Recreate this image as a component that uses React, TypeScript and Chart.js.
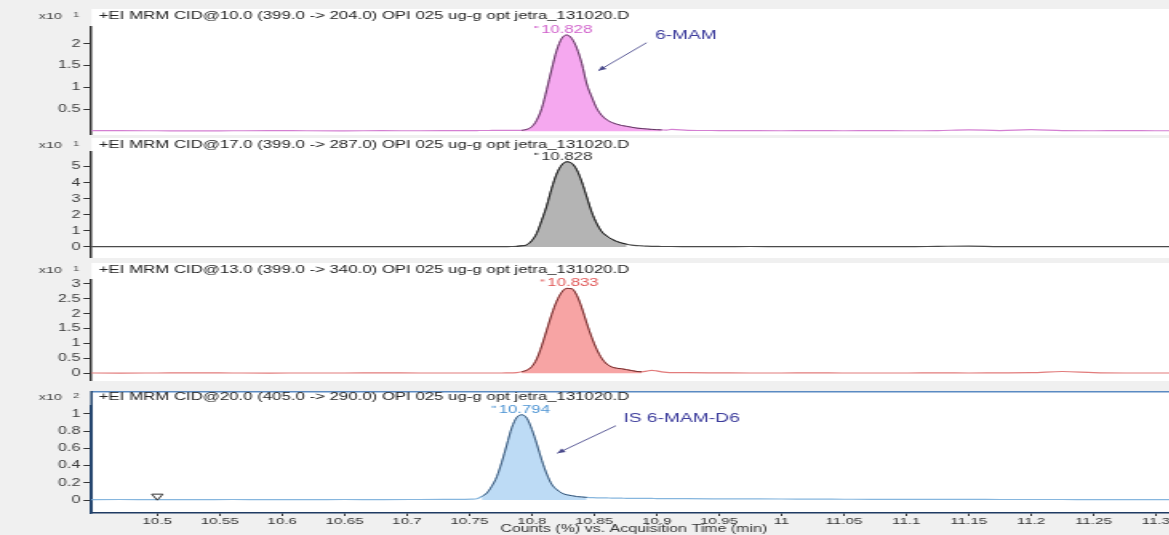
import React, { useEffect, useRef } from "react";
import { Chart, registerables } from "chart.js";

Chart.register(...registerables);

const FONT = '"Liberation Sans", Arial, Helvetica, sans-serif';
Chart.defaults.font.family = FONT;

// ---------- data ----------
const TIMES = [
  10.44, 10.47, 10.5, 10.53, 10.56, 10.59, 10.62, 10.65, 10.68, 10.71, 10.73, 10.745,
  10.752, 10.756, 10.76, 10.764, 10.768, 10.772, 10.776, 10.78, 10.784, 10.788,
  10.792, 10.796, 10.8, 10.804, 10.808, 10.812, 10.816, 10.82, 10.824, 10.828,
  10.832, 10.836, 10.84, 10.844, 10.848, 10.852, 10.856, 10.86, 10.864, 10.868,
  10.872, 10.876, 10.88, 10.884, 10.888, 10.892, 10.896, 10.9, 10.904, 10.908, 10.912,
  10.925, 10.95, 10.975, 11.0, 11.025, 11.05, 11.075, 11.1, 11.125, 11.15, 11.175, 11.2, 11.225, 11.25, 11.275, 11.3, 11.33,
];

// 6-MAM, CID@10.0 (x10^1)
const SERIES_6MAM = [
  0.01, 0.012, 0.01, 0.008, 0.01, 0.012, 0.01, 0.009, 0.011, 0.01, 0.012, 0.015,
  0.015, 0.015, 0.016, 0.016, 0.017, 0.017, 0.018, 0.018, 0.019, 0.02,
  0.02, 0.04, 0.1, 0.25, 0.52, 0.95, 1.42, 1.85, 2.12, 2.2,
  2.12, 1.9, 1.55, 1.08, 0.78, 0.52, 0.36, 0.26, 0.2, 0.16,
  0.13, 0.11, 0.09, 0.07, 0.06, 0.05, 0.04, 0.035, 0.03, 0.025, 0.04,
  0.02, 0.015, 0.012, 0.01, 0.012, 0.01, 0.012, 0.01, 0.015, 0.03, 0.015, 0.035, 0.012, 0.01, 0.012, 0.01, 0.01,
];

// CID@17.0 (x10^1)
const SERIES_CID17 = [
  0.02, 0.025, 0.02, 0.018, 0.02, 0.022, 0.02, 0.02, 0.018, 0.02, 0.022, 0.02,
  0.02, 0.02, 0.02, 0.02, 0.02, 0.02, 0.022, 0.025, 0.03, 0.04,
  0.07, 0.13, 0.38, 0.85, 1.65, 2.55, 3.65, 4.55, 5.1, 5.3,
  5.2, 4.8, 4.05, 3.1, 2.15, 1.45, 0.95, 0.68, 0.48, 0.34,
  0.24, 0.17, 0.12, 0.09, 0.07, 0.05, 0.04, 0.035, 0.03, 0.03, 0.03,
  0.025, 0.02, 0.03, 0.02, 0.018, 0.025, 0.02, 0.02, 0.04, 0.06, 0.02, 0.018, 0.02, 0.02, 0.025, 0.02, 0.02,
];

// CID@13.0 (x10^1)
const SERIES_CID13 = [
  0.01, 0.008, 0.01, 0.012, 0.01, 0.008, 0.01, 0.01, 0.012, 0.01, 0.01, 0.01,
  0.01, 0.01, 0.01, 0.01, 0.01, 0.01, 0.01, 0.012, 0.015, 0.02,
  0.05, 0.1, 0.22, 0.48, 0.92, 1.45, 1.98, 2.42, 2.72, 2.85,
  2.84, 2.62, 2.2, 1.68, 1.2, 0.8, 0.5, 0.31, 0.21, 0.17,
  0.15, 0.12, 0.09, 0.06, 0.05, 0.07, 0.1, 0.08, 0.05, 0.03, 0.02,
  0.02, 0.015, 0.01, 0.01, 0.012, 0.01, 0.01, 0.01, 0.012, 0.01, 0.015, 0.02, 0.06, 0.02, 0.01, 0.01, 0.01,
];

// IS 6-MAM-D6, CID@20.0 (x10^2)
const SERIES_IS = [
  0.005, 0.006, 0.005, 0.005, 0.006, 0.005, 0.005, 0.006, 0.005, 0.006, 0.007, 0.008,
  0.01, 0.015, 0.04, 0.08, 0.16, 0.27, 0.44, 0.64, 0.84, 0.96,
  0.99, 0.95, 0.82, 0.65, 0.46, 0.3, 0.18, 0.12, 0.08, 0.06,
  0.05, 0.04, 0.035, 0.03, 0.028, 0.026, 0.025, 0.024, 0.023, 0.022,
  0.021, 0.02, 0.02, 0.019, 0.019, 0.018, 0.018, 0.017, 0.017, 0.016, 0.016,
  0.015, 0.014, 0.013, 0.012, 0.01, 0.009, 0.008, 0.008, 0.007, 0.007, 0.006, 0.006, 0.006, 0.005, 0.005, 0.005, 0.005,
];

const SERIES = [SERIES_6MAM, SERIES_CID17, SERIES_CID13, SERIES_IS];

const TITLES = [
  "+EI MRM CID@10.0 (399.0 -> 204.0) OPI 025 ug-g opt jetra_131020.D",
  "+EI MRM CID@17.0 (399.0 -> 287.0) OPI 025 ug-g opt jetra_131020.D",
  "+EI MRM CID@13.0 (399.0 -> 340.0) OPI 025 ug-g opt jetra_131020.D",
  "+EI MRM CID@20.0 (405.0 -> 290.0) OPI 025 ug-g opt jetra_131020.D",
];
const EXPONENTS = ["1", "1", "1", "2"];
const PEAK_TIMES = [10.828, 10.828, 10.833, 10.794];
const PEAK_LABELS = ["10.828", "10.828", "10.833", "10.794"];
const WINDOW_START = [10.79, 10.785, 10.79, 10.757];
const WINDOW_END = [10.905, 10.877, 10.889, 10.845];

const Y_MIN = [-0.087, -0.685, -0.259, -0.151];
const Y_MAX = [2.384, 5.915, 3.134, 1.093];
const Y_TICKS_6MAM = [0.5, 1, 1.5, 2];
const Y_TICKS_CID17 = [0, 1, 2, 3, 4, 5];
const Y_TICKS_CID13 = [0, 0.5, 1, 1.5, 2, 2.5, 3];
const Y_TICKS_IS = [0, 0.2, 0.4, 0.6, 0.8, 1];
const Y_TICKS = [Y_TICKS_6MAM, Y_TICKS_CID17, Y_TICKS_CID13, Y_TICKS_IS];

const X_MIN = 10.4473;
const X_MAX = 11.316;
const X_TICKS = [10.5, 10.55, 10.6, 10.65, 10.7, 10.75, 10.8, 10.85, 10.9, 10.95, 11, 11.05, 11.1, 11.15, 11.2, 11.25, 11.3];
const X_TITLE = "Counts (%) vs. Acquisition Time (min)";

const ANNOTATION_TEXTS = ["6-MAM", "IS 6-MAM-D6"];
const ANNOTATION_PANELS = [0, 3];
const ANNOTATION_TEXT_TIMES = [10.8987, 10.8734];
const ANNOTATION_TEXT_VALUES = [2.18, 0.95];
const ARROW_FROM_TIMES = [10.892, 10.8674];
const ARROW_FROM_VALUES = [2.025, 0.864];
const ARROW_TO_TIMES = [10.8533, 10.8204];
const ARROW_TO_VALUES = [1.384, 0.543];

const MARKER_TIMES = [10.5];
const MARKER_VALUES = [0.045];

// ---------- layout & style ----------
const STRETCH = 1.6;
const CANVAS_W = 740;
const VIEW_W = 1169;
const VIEW_H = 535;
const PANEL_TOP = [9, 138, 263, 391];
const PANEL_H = [126, 120, 118, 144];
const PLOT_TOP_PAD = [18, 14, 17, 15];
const TITLE_Y = [6.7, 7, 7, 6];
const AXIS_W = 57.2;
const X_AXIS_H = 22;

const TRACE_COLORS = ["#d47fd2", "#4a4a4a", "#e27c7c", "#86b6de"];
const FILL_COLORS = ["#f5a8ef", "#b4b4b4", "#f7a4a4", "#bddbf5"];
const OUTLINE_COLORS = ["#5e3a5e", "#1e1e1e", "#6e2c2c", "#3c5878"];
const LABEL_COLORS = ["#d05fcb", "#333333", "#e05555", "#4b93d3"];
const ANNOT_COLOR = "#3c3c9c";
const ARROW_COLOR = "#4a4a8c";

function drawArrow(ctx: CanvasRenderingContext2D, x1: number, y1: number, x2: number, y2: number) {
  ctx.strokeStyle = ARROW_COLOR;
  ctx.fillStyle = ARROW_COLOR;
  ctx.lineWidth = 0.9;
  ctx.beginPath();
  ctx.moveTo(x1, y1);
  ctx.lineTo(x2, y2);
  ctx.stroke();
  const ang = Math.atan2(y2 - y1, x2 - x1);
  const L = 5;
  const W = 2.2;
  ctx.beginPath();
  ctx.moveTo(x2, y2);
  ctx.lineTo(x2 - L * Math.cos(ang) + W * Math.sin(ang), y2 - L * Math.sin(ang) - W * Math.cos(ang));
  ctx.lineTo(x2 - L * Math.cos(ang) - W * Math.sin(ang), y2 - L * Math.sin(ang) + W * Math.cos(ang));
  ctx.closePath();
  ctx.fill();
}

function makePlugin(i: number) {
  return {
    id: "panelDecor" + i,
    beforeDraw(chart: any) {
      const { ctx, chartArea: a, width } = chart;
      ctx.save();
      ctx.fillStyle = "#ffffff";
      ctx.fillRect(a.left, 0, width - a.left, a.bottom);
      if (i === 3) {
        ctx.strokeStyle = "#5a8ac2";
        ctx.lineWidth = 1.4;
        ctx.beginPath();
        ctx.moveTo(a.left, 0.8);
        ctx.lineTo(width, 0.8);
        ctx.stroke();
        ctx.strokeStyle = "#24456e";
        ctx.lineWidth = 1.5;
        ctx.beginPath();
        ctx.moveTo(a.left, 0);
        ctx.lineTo(a.left, a.bottom);
        ctx.stroke();
      }
      ctx.restore();
    },
    afterDraw(chart: any) {
      const { ctx, chartArea: a } = chart;
      const xs = chart.scales.x;
      const ys = chart.scales.y;
      ctx.save();
      // title
      ctx.font = "10.5px " + FONT;
      ctx.fillStyle = "#222222";
      ctx.textAlign = "left";
      ctx.textBaseline = "middle";
      ctx.fillText(TITLES[i], a.left + 4.5, TITLE_Y[i]);
      // exponent
      ctx.fillStyle = "#444444";
      ctx.font = "9px " + FONT;
      ctx.textAlign = "right";
      ctx.fillText("x10", a.left - 18.5, TITLE_Y[i] + 0.5);
      ctx.font = "7px " + FONT;
      ctx.textAlign = "center";
      ctx.fillText(EXPONENTS[i], a.left - 9.5, TITLE_Y[i] - 1);
      // peak label
      const vals = SERIES[i];
      let k = 0;
      vals.forEach((v, j) => { if (v > vals[k]) k = j; });
      const px = xs.getPixelForValue(PEAK_TIMES[i]);
      const py = ys.getPixelForValue(vals[k]) - 5;
      ctx.font = "10.5px " + FONT;
      ctx.fillStyle = LABEL_COLORS[i];
      ctx.textAlign = "center";
      ctx.fillText(PEAK_LABELS[i], px, py);
      const tw = ctx.measureText(PEAK_LABELS[i]).width;
      const mx = px - tw / 2 - 3;
      ctx.strokeStyle = LABEL_COLORS[i];
      ctx.lineWidth = 0.8;
      ctx.beginPath();
      ctx.moveTo(mx - 0.7, py - 4);
      ctx.lineTo(mx - 0.7, py - 2);
      ctx.moveTo(mx + 0.7, py - 4);
      ctx.lineTo(mx + 0.7, py - 2);
      ctx.stroke();
      // annotations
      ANNOTATION_PANELS.forEach((p, n) => {
        if (p !== i) return;
        drawArrow(
          ctx,
          xs.getPixelForValue(ARROW_FROM_TIMES[n]), ys.getPixelForValue(ARROW_FROM_VALUES[n]),
          xs.getPixelForValue(ARROW_TO_TIMES[n]), ys.getPixelForValue(ARROW_TO_VALUES[n])
        );
        ctx.font = "12px " + FONT;
        ctx.fillStyle = ANNOT_COLOR;
        ctx.textAlign = "left";
        ctx.textBaseline = "middle";
        ctx.fillText(
          ANNOTATION_TEXTS[n],
          xs.getPixelForValue(ANNOTATION_TEXT_TIMES[n]),
          ys.getPixelForValue(ANNOTATION_TEXT_VALUES[n])
        );
      });
      ctx.restore();
    },
  };
}

function buildConfig(i: number): any {
  const values = SERIES[i];
  const trace = TIMES.map((t, k) => ({ x: t, y: values[k] }));
  const peak = trace.filter((p) => p.x >= WINDOW_START[i] && p.x <= WINDOW_END[i]);
  const datasets: any[] = [
    {
      data: peak,
      borderColor: OUTLINE_COLORS[i],
      backgroundColor: FILL_COLORS[i],
      fill: "origin",
      borderWidth: 1,
      pointRadius: 0,
      cubicInterpolationMode: "monotone",
      order: 1,
    },
    {
      data: trace,
      borderColor: TRACE_COLORS[i],
      borderWidth: 1.2,
      pointRadius: 0,
      fill: false,
      cubicInterpolationMode: "monotone",
      order: 2,
    },
  ];
  if (i === 3) {
    datasets.push({
      data: MARKER_TIMES.map((t, k) => ({ x: t, y: MARKER_VALUES[k] })),
      showLine: false,
      pointStyle: "triangle",
      rotation: 180,
      pointRadius: 4,
      borderColor: "#333333",
      borderWidth: 1,
      backgroundColor: "rgba(255,255,255,0)",
      order: 0,
    });
  }
  const isBottom = i === 3;
  return {
    type: "line",
    data: { datasets },
    plugins: [makePlugin(i)],
    options: {
      responsive: false,
      animation: false,
      devicePixelRatio: 1,
      events: [],
      layout: { padding: { top: PLOT_TOP_PAD[i], right: 5, bottom: 0, left: 0 } },
      plugins: {
        legend: { display: false },
        tooltip: { enabled: false },
        title: { display: false },
      },
      scales: {
        x: {
          type: "linear",
          min: X_MIN,
          max: X_MAX,
          display: isBottom,
          afterBuildTicks: (s: any) => {
            s.ticks = X_TICKS.map((v) => ({ value: v }));
          },
          afterFit: (s: any) => {
            if (isBottom) s.height = X_AXIS_H;
            s.paddingLeft = 0;
            s.paddingRight = 0;
          },
          ticks: {
            autoSkip: false,
            maxRotation: 0,
            minRotation: 0,
            padding: 0,
            color: "#333333",
            font: { size: 9.5 },
            callback: (v: any) => String(v),
          },
          grid: { drawOnChartArea: false, drawTicks: true, tickLength: 3, color: "#333333" },
          border: { display: true, color: "#1f3b63", width: 1.5 },
          title: {
            display: true,
            text: X_TITLE,
            color: "#333333",
            font: { size: 10, lineHeight: 1.1 },
            padding: 0,
          },
        },
        y: {
          type: "linear",
          min: Y_MIN[i],
          max: Y_MAX[i],
          afterBuildTicks: (s: any) => {
            s.ticks = Y_TICKS[i].map((v) => ({ value: v }));
          },
          afterFit: (s: any) => {
            s.width = AXIS_W;
            s.paddingTop = 0;
            s.paddingBottom = 0;
          },
          ticks: {
            autoSkip: false,
            padding: 2,
            color: "#3a3a3a",
            font: { size: 10 },
            callback: (v: any) => String(v),
          },
          grid: { drawOnChartArea: false, drawTicks: true, tickLength: 5, color: "#333333" },
          border: { display: true, color: isBottom ? "#24456e" : "#333333", width: 1.5 },
        },
      },
    },
  };
}

export default function App() {
  const wrapRef = useRef<HTMLDivElement>(null);
  useEffect(() => {
    const wrap = wrapRef.current;
    if (!wrap) return;
    const canvases = Array.from(wrap.querySelectorAll("canvas")) as HTMLCanvasElement[];
    const charts = canvases.map((c, i) => new Chart(c, buildConfig(i)));
    return () => charts.forEach((c) => c.destroy());
  }, []);
  return (
    <div
      ref={wrapRef}
      style={{
        position: "fixed",
        left: 0,
        top: 0,
        width: VIEW_W,
        height: VIEW_H,
        overflow: "hidden",
        background: "#f0f0f0",
      }}
    >
      {PANEL_TOP.map((top, i) => (
        <canvas
          key={i}
          width={CANVAS_W}
          height={PANEL_H[i]}
          style={{
            position: "absolute",
            left: 0,
            top,
            width: CANVAS_W * STRETCH,
            height: PANEL_H[i],
          }}
        />
      ))}
    </div>
  );
}
